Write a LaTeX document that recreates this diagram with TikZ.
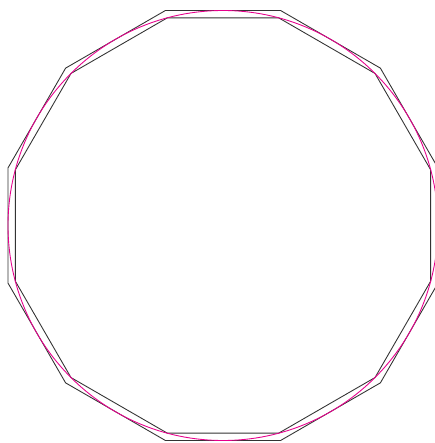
\documentclass[tikz,border=0pt]{standalone}
\definecolor{circmag}{RGB}{230,0,140}
\begin{document}
\begin{tikzpicture}[line join=miter, polyline/.style={draw=black!80, line width=0.5pt}]
	% 0. 画布范围 (右侧被裁切)
	\useasboundingbox (-4.46,-4.35) rectangle (4.22,4.51);
	
	% 1. 外切正十二边形
	\draw[polyline] plot[samples at={15,45,...,345}] ({4.3/cos(15)*cos(\x)}, {4.3/cos(15)*sin(\x)}) -- cycle;
	
	% 2. 内接正十二边形
	\draw[polyline] plot[samples at={15,45,...,345}] ({4.3*cos(\x)}, {4.3*sin(\x)}) -- cycle;
	
	% 3. 圆
	\draw[circmag, line width=0.5pt] (0,0) circle (4.3);
\end{tikzpicture}
\end{document}
